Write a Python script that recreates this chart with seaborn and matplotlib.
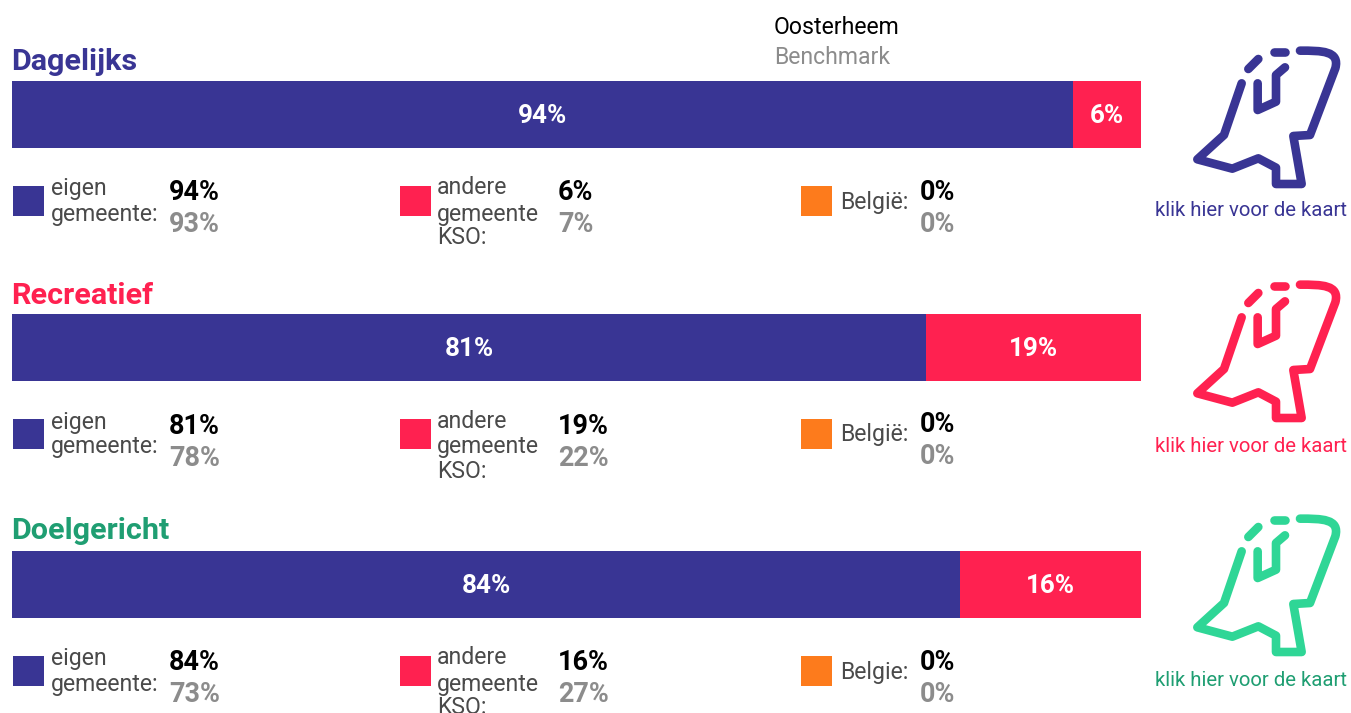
import matplotlib
matplotlib.use("Agg")
import matplotlib.pyplot as plt
from matplotlib.patches import Rectangle
from matplotlib.path import Path
from matplotlib.patches import PathPatch
import seaborn as sns

groups = ["Dagelijks", "Recreatief", "Doelgericht"]
own = [94, 81, 84]
other = [6, 19, 16]
belgium = [0, 0, 0]
bench_own = [93, 78, 73]
bench_other = [7, 22, 27]
bench_belgium = [0, 0, 0]
belgium_labels = ["België:", "België:", "Belgie:"]
link_label = "klik hier voor de kaart"

BLUE = "#393594"
RED = "#ff2150"
ORANGE = "#fd7b1c"
GREY = "#8c8c8c"
DARK = "#4a4a4a"
title_colors = [BLUE, RED, "#1f9e72"]
icon_colors = [BLUE, RED, "#2fd696"]
link_colors = [BLUE, RED, "#1f9e72"]

sns.set_theme(style="white")
plt.rcParams["font.family"] = ["Roboto", "DejaVu Sans"]

W, H = 1351, 713
fig = plt.figure(figsize=(W / 100, H / 100), dpi=100)

# overlay in pixel coordinates for the text and the icons
page = fig.add_axes([0, 0, 1, 1])
page.set_xlim(0, W)
page.set_ylim(H, 0)
page.set_axis_off()


def px(size):
    return size * 0.72


def put(x, y, s, size=23, color=DARK, weight="normal", ha="left"):
    page.text(x, y, s, fontsize=px(size), color=color, fontweight=weight, ha=ha, va="center")


def draw_icon(dy, color):
    # outline of the map, traced in crop coordinates (3x, origin 1140,30)
    def pt(x, y):
        return (1140 + x / 3, 30 + dy + y / 3)

    outline = [(305, 160), (252, 315), (172, 388), (277, 416), (355, 385), (408, 413),
               (408, 462), (485, 462), (460, 318), (510, 315), (586, 115)]
    verts = [pt(*p) for p in outline] + [pt(600, 62), pt(545, 62), pt(480, 62)]
    codes = [Path.MOVETO] + [Path.LINETO] * (len(outline) - 1) + [Path.CURVE4] * 3
    parts = [(verts, codes)]
    for seg in ([(325, 117), (355, 87)],
                [(402, 65), (435, 65)],
                [(353, 160), (353, 240), (408, 215), (408, 135), (435, 112)]):
        parts.append(([pt(*p) for p in seg], [Path.MOVETO] + [Path.LINETO] * (len(seg) - 1)))
    for v, c in parts:
        page.add_patch(PathPatch(Path(v, c), fill=False, edgecolor=color, lw=6.2,
                                 capstyle="round", joinstyle="round"))


bar_tops = [81, 314, 551]
block_tops = [186, 419, 656]
title_ys = [62, 296, 531]
icon_dys = [0, 234, 468]
link_ys = [210, 446, 680]

put(774, 27, "Oosterheem", size=23, color="black")
put(774, 58, "Benchmark", size=23, color=GREY)

for i, name in enumerate(groups):
    put(11, title_ys[i], name, size=30.5, color=title_colors[i], weight="bold")

    # stacked bar, widest segment first so the shorter ones sit on top
    ax = fig.add_axes([12 / W, 1 - (bar_tops[i] + 67) / H, 1129 / W, 67 / H])
    total = own[i] + other[i] + belgium[i]
    sns.barplot(x=[total], y=[name], color=ORANGE, saturation=1, width=1, linewidth=0, ax=ax)
    sns.barplot(x=[own[i] + other[i]], y=[name], color=RED, saturation=1, width=1, linewidth=0, ax=ax)
    sns.barplot(x=[own[i]], y=[name], color=BLUE, saturation=1, width=1, linewidth=0, ax=ax)
    ax.set_xlim(0, 100)
    ax.set_ylim(0.5, -0.5)
    ax.set_axis_off()
    ax.text(own[i] / 2, 0.02, f"{own[i]}%", color="white", fontsize=px(26), fontweight="bold",
            ha="center", va="center")
    ax.text(own[i] + other[i] / 2, 0.02, f"{other[i]}%", color="white", fontsize=px(26), fontweight="bold",
            ha="center", va="center")

    # legend blocks
    top = block_tops[i]
    page.add_patch(Rectangle((13, top), 31, 30, color=BLUE, lw=0))
    page.add_patch(Rectangle((400, top), 31, 30, color=RED, lw=0))
    page.add_patch(Rectangle((801, top), 31, 30, color=ORANGE, lw=0))

    put(51, top + 3, "eigen")
    put(51, top + 28, "gemeente:")
    put(437, top + 2, "andere")
    put(437, top + 28, "gemeente")
    put(437, top + 52, "KSO:")
    put(840, top + 16, belgium_labels[i])

    put(169, top + 7, f"{own[i]}%", size=27, color="black", weight="bold")
    put(169, top + 39, f"{bench_own[i]}%", size=27, color=GREY, weight="bold")
    put(558, top + 7, f"{other[i]}%", size=27, color="black", weight="bold")
    put(558, top + 39, f"{bench_other[i]}%", size=27, color=GREY, weight="bold")
    put(920, top + 6, f"{belgium[i]}%", size=27, color="black", weight="bold")
    put(920, top + 38, f"{bench_belgium[i]}%", size=27, color=GREY, weight="bold")

    draw_icon(icon_dys[i], icon_colors[i])
    put(1251, link_ys[i], link_label, size=20.4, color=link_colors[i], ha="center")

fig.savefig("out.png", dpi=100)
